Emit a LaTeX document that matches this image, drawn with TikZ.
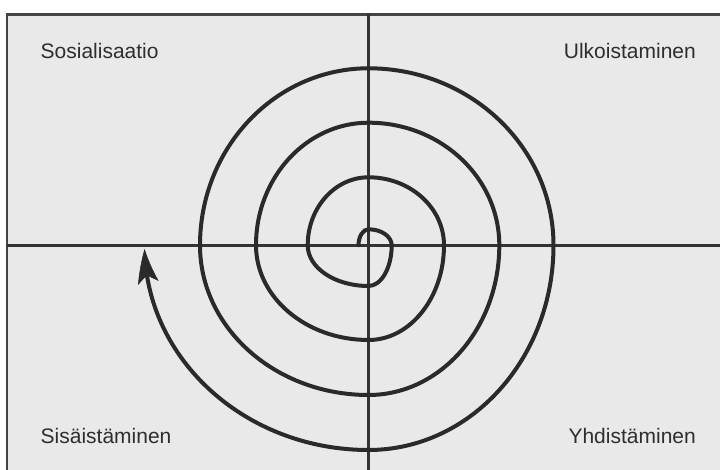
\documentclass[tikz,border=0pt]{standalone}
\usepackage{fontspec}
\setmainfont{Liberation Sans}
\usetikzlibrary{arrows.meta,calc,bending}
\definecolor{bgc}{HTML}{E9E9E9}
\definecolor{framec}{HTML}{444444}
\definecolor{linec}{HTML}{333333}
\definecolor{spiralc}{HTML}{2A2A2A}
\definecolor{textc}{HTML}{2E2E2E}
\tikzset{
  framebox/.style={draw=framec,line width=2.8pt},
  axis/.style={draw=linec,line width=2.6pt},
  spiral/.style={draw=spiralc,line width=4pt,line cap=round,
    -{Stealth[length=35pt,width=21pt,inset=8pt,line width=0.5pt,bend]}},
  quadlabel/.style={inner sep=0pt,text=textc,font=\fontsize{21}{25}\selectfont}
}
\begin{document}
\begin{tikzpicture}[x=1pt,y=1pt]
\useasboundingbox (0,0) rectangle (720,470);
\clip (0,0) rectangle (720,470);
\fill[white] (0,0) rectangle (720,470);
\fill[bgc] (7,-10) rectangle (730,455.5);
\draw[framebox] (7,-10) -- (7,455.5) -- (730,455.5);
\coordinate (C) at (368.5,224.7);
\coordinate (vtop) at (368.5,455.5);
\coordinate (vbot) at (368.5,-5);
\coordinate (hleft) at (7,224.7);
\coordinate (hright) at (725,224.7);
\draw[axis] (vtop) -- (vbot);
\draw[axis] (hleft) -- (hright);
\coordinate (S0) at ($(C)+(-10,0)$);
\draw[spiral] (S0)
 arc[start angle=180,end angle=90,x radius=10,y radius=16]
 arc[start angle=90,end angle=0,x radius=23.2,y radius=16]
 arc[start angle=0,end angle=-90,x radius=23.2,y radius=40.7]
 arc[start angle=270,end angle=180,x radius=60.8,y radius=40.7]
 arc[start angle=180,end angle=90,x radius=60.8,y radius=68]
 arc[start angle=90,end angle=0,x radius=75.5,y radius=68]
 arc[start angle=0,end angle=-90,x radius=75.5,y radius=94.7]
 arc[start angle=270,end angle=180,x radius=112.5,y radius=94.7]
 arc[start angle=180,end angle=90,x radius=112.5,y radius=122.6]
 arc[start angle=90,end angle=0,x radius=130.8,y radius=122.6]
 arc[start angle=0,end angle=-90,x radius=130.8,y radius=149.7]
 arc[start angle=270,end angle=180,x radius=168.5,y radius=149.7]
 arc[start angle=180,end angle=90,x radius=168.5,y radius=177]
 arc[start angle=90,end angle=0,x radius=185,y radius=177]
 arc[start angle=0,end angle=-90,x radius=185,y radius=204.7]
 arc[start angle=270,end angle=181,x radius=224,y radius=204.7];
\node[quadlabel,anchor=base west] (sos) at (40.5,411.7) {Sosialisaatio};
\node[quadlabel,anchor=base east] (ulk) at (696,411.7) {Ulkoistaminen};
\node[quadlabel,anchor=base west] (sis) at (40.5,26.5) {Sisäistäminen};
\node[quadlabel,anchor=base east] (yhd) at (696,26.5) {Yhdistäminen};
\end{tikzpicture}
\end{document}
